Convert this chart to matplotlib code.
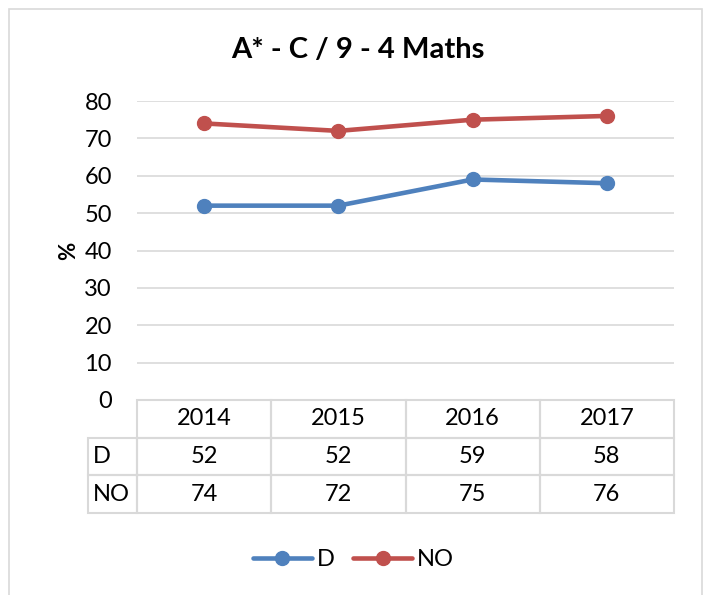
import matplotlib.pyplot as plt
from matplotlib.patches import Rectangle

plt.rcParams['font.family'] = ['Lato', 'DejaVu Sans']

# data
years = ['2014', '2015', '2016', '2017']
series_names = ['D', 'NO']
d_values = [52, 52, 59, 58]
no_values = [74, 72, 75, 76]
colors = ['#4f81bd', '#c0504d']

W, H = 707, 595
fig = plt.figure(figsize=(W / 100, H / 100), dpi=100)

# outer chart border (Excel style)
fig.patches.append(Rectangle((9 / W, -0.01), (702 - 9) / W, 1 - 9 / H + 0.01,
                             transform=fig.transFigure, fill=False,
                             edgecolor='#d9d9d9', linewidth=1.2))

# plot area in pixels
left, right, top, bottom = 137, 674, 101, 400
ax = fig.add_axes([left / W, 1 - bottom / H, (right - left) / W, (bottom - top) / H])

x = list(range(len(years)))
for vals, name, c in zip([d_values, no_values], series_names, colors):
    ax.plot(x, vals, color=c, linewidth=3.3, marker='o', markersize=10,
            solid_capstyle='round', label=name, zorder=3)

ax.set_xlim(-0.5, len(years) - 0.5)
ax.set_ylim(0, 80)
ax.set_yticks(range(0, 81, 10))
ax.set_xticks([])
ax.grid(axis='y', color='#d9d9d9', linewidth=1.2)
ax.set_axisbelow(True)
for s in ax.spines.values():
    s.set_visible(False)
ax.tick_params(axis='y', length=0, labelsize=17, pad=18, labelcolor='black')
ax.set_ylabel('%', fontsize=16, fontweight='bold', labelpad=4)

# title is centred on the whole chart area, not on the plot area
fig.text(358 / W, 1 - 50 / H, 'A* - C / 9 - 4 Maths', fontsize=21, fontweight='bold',
         ha='center', va='center')

# data table below the plot; first column holds the series names
tbl_left, tbl_bottom = 88, 513
ph = bottom - top
pw = right - left
lab_w = (left - tbl_left) / pw
table = ax.table(cellText=[[n] + [str(v) for v in vals]
                           for n, vals in zip(series_names, [d_values, no_values])],
                 colLabels=[''] + years,
                 colWidths=[lab_w] + [1 / len(years)] * len(years),
                 cellLoc='center', colLoc='center',
                 bbox=[-lab_w, -(tbl_bottom - bottom) / ph, 1 + lab_w, (tbl_bottom - bottom) / ph])
table.auto_set_font_size(False)
table.set_fontsize(17)
for (r, c), cell in table.get_celld().items():
    cell.set_edgecolor('#d9d9d9')
    cell.set_linewidth(1.5)
    cell.set_facecolor('none')
    if c == 0:
        cell.get_text().set_horizontalalignment('left')
table[0, 0].visible_edges = ''
table.set_clip_on(False)

fig.legend(loc='center', bbox_to_anchor=(0.5, 1 - 560 / H), ncol=2, frameon=False,
           fontsize=17, handlelength=2.5, columnspacing=0.8, handletextpad=0.2)

fig.savefig('out.png', dpi=100, facecolor='white')
